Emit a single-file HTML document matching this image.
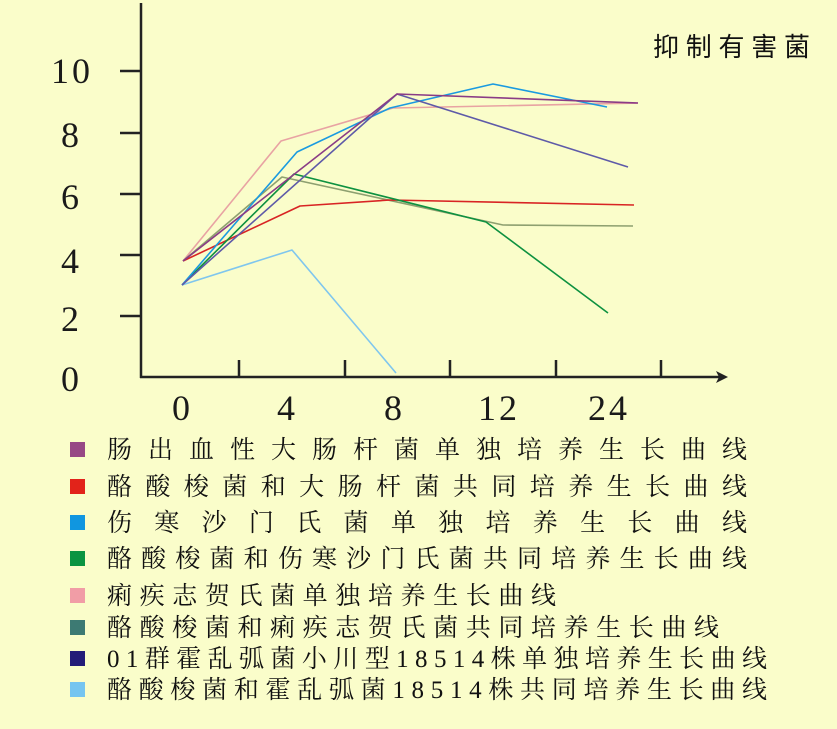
<!DOCTYPE html>
<html>
<head>
<meta charset="utf-8">
<style>
  html,body{margin:0;padding:0;background:#FAFDCA;}
  svg{display:block;}
  .ax{font-family:"Liberation Serif","Noto Serif CJK SC",serif;font-size:36px;fill:#1a1a1a;}
  .lg{font-family:"Liberation Serif","Noto Serif CJK SC",serif;font-size:25px;fill:#111;}
  .tt{font-family:"Liberation Sans","Noto Sans CJK SC",sans-serif;font-size:26px;fill:#111;}
</style>
</head>
<body>
<svg width="837" height="729" viewBox="0 0 837 729" xmlns="http://www.w3.org/2000/svg">
  <rect width="837" height="729" fill="#FAFDCA"/>

  <!-- title -->
  <text class="tt" x="653" y="56" textLength="157" lengthAdjust="spacing">抑制有害菌</text>

  <!-- axes -->
  <g stroke="#222" stroke-width="2.5" fill="none">
    <line x1="141" y1="3" x2="141" y2="378"/>
    <line x1="140" y1="377" x2="720" y2="377"/>
    <line x1="120" y1="71" x2="141" y2="71"/>
    <line x1="120" y1="133" x2="141" y2="133"/>
    <line x1="120" y1="194" x2="141" y2="194"/>
    <line x1="120" y1="255" x2="141" y2="255"/>
    <line x1="120" y1="316" x2="141" y2="316"/>
    <line x1="239" y1="360" x2="239" y2="377"/>
    <line x1="345" y1="360" x2="345" y2="377"/>
    <line x1="450" y1="360" x2="450" y2="377"/>
    <line x1="556" y1="360" x2="556" y2="377"/>
    <line x1="661" y1="360" x2="661" y2="377"/>
  </g>
  <polygon points="728,377 716,371 719,377 716,383" fill="#222"/>

  <!-- y labels -->
  <g class="ax" text-anchor="middle">
    <text x="72" y="83" letter-spacing="3">10</text>
    <text x="70" y="147">8</text>
    <text x="70" y="209">6</text>
    <text x="70" y="273">4</text>
    <text x="70" y="331">2</text>
    <text x="70" y="391">0</text>
  </g>
  <!-- x labels -->
  <g class="ax" text-anchor="middle">
    <text x="181" y="420">0</text>
    <text x="286" y="420">4</text>
    <text x="393" y="420">8</text>
    <text x="499" y="420" letter-spacing="3">12</text>
    <text x="609" y="420" letter-spacing="3">24</text>
  </g>

  <!-- series -->
  <g fill="none" stroke-width="1.6" stroke-linejoin="round">
    <polyline stroke="#7FC6EE" points="182,285 292,250 396,373"/>
    <polyline stroke="#E8A3A3" points="183,261 281,141 393,108 638,103"/>
    <polyline stroke="#8EA070" points="183,261 282,177 503,225 633,226"/>
    <polyline stroke="#D82424" points="183,261 300,206 390,200 634,205"/>
    <polyline stroke="#0E9140" points="182,285 294,174 486,222 608,313"/>
    <polyline stroke="#1A9AE0" points="182,285 297,152 390,108 493,84 607,107"/>
    <polyline stroke="#5E5AA8" points="182,285 397,94 628,167"/>
    <polyline stroke="#8A3C86" points="183,261 397,94 638,103"/>
  </g>

  <!-- legend -->
  <g>
    <rect x="70" y="442" width="15" height="15" fill="#974885"/>
    <rect x="70" y="479" width="15" height="15" fill="#E2231A"/>
    <rect x="70" y="515" width="15" height="15" fill="#1096E0"/>
    <rect x="70" y="551" width="15" height="15" fill="#0A9441"/>
    <rect x="70" y="588" width="15" height="15" fill="#F19DA6"/>
    <rect x="70" y="620" width="15" height="15" fill="#3D7A73"/>
    <rect x="70" y="651" width="15" height="15" fill="#231C78"/>
    <rect x="70" y="682" width="15" height="15" fill="#75C5F0"/>
  </g>
  <g class="lg">
    <text x="107" y="458" textLength="640" lengthAdjust="spacing">肠出血性大肠杆菌单独培养生长曲线</text>
    <text x="107" y="495" textLength="640" lengthAdjust="spacing">酪酸梭菌和大肠杆菌共同培养生长曲线</text>
    <text x="107" y="531" textLength="640" lengthAdjust="spacing">伤寒沙门氏菌单独培养生长曲线</text>
    <text x="107" y="567" textLength="640" lengthAdjust="spacing">酪酸梭菌和伤寒沙门氏菌共同培养生长曲线</text>
    <text x="107" y="604" textLength="449" lengthAdjust="spacing">痢疾志贺氏菌单独培养生长曲线</text>
    <text x="107" y="636" textLength="612" lengthAdjust="spacing">酪酸梭菌和痢疾志贺氏菌共同培养生长曲线</text>
    <text x="107" y="667" textLength="660" lengthAdjust="spacing">01群霍乱弧菌小川型18514株单独培养生长曲线</text>
    <text x="107" y="698" textLength="660" lengthAdjust="spacing">酪酸梭菌和霍乱弧菌18514株共同培养生长曲线</text>
  </g>
</svg>
</body>
</html>
